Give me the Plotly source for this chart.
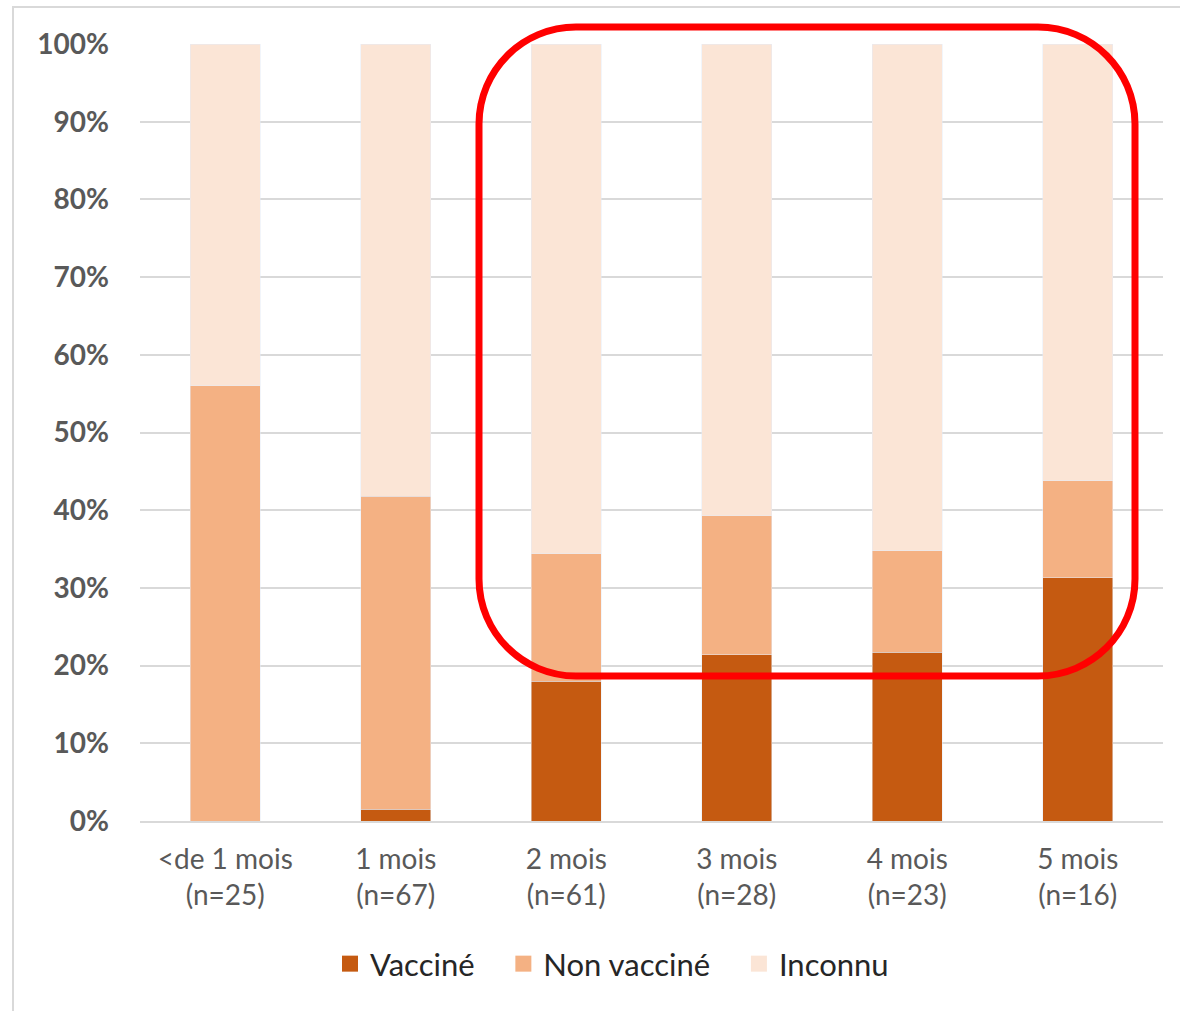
import plotly.graph_objects as go

# Age groups of the infants, with group sizes
categories = ["<de 1 mois<br>(n=25)", "1 mois<br>(n=67)", "2 mois<br>(n=61)",
              "3 mois<br>(n=28)", "4 mois<br>(n=23)", "5 mois<br>(n=16)"]

# Share of each vaccination status (percent)
vaccine = [0.0, 1.5, 18.0, 21.4, 21.7, 31.3]
non_vaccine = [56.0, 40.3, 16.4, 17.9, 13.1, 12.5]
inconnu = [44.0, 58.2, 65.6, 60.7, 65.2, 56.2]

series_names = ["Vacciné", "Non vacciné", "Inconnu"]
series_colors = ["#C55A11", "#F4B183", "#FBE5D6"]

y_ticks = [0, 10, 20, 30, 40, 50, 60, 70, 80, 90, 100]
y_tick_text = [f"{v}%" for v in y_ticks]

W, H = 1180, 1011
ML, MR, MT, MB = 140, 17, 44, 190
PW, PH = W - ML - MR, H - MT - MB


def px(x):
    return (x - ML) / PW


def py(y):
    return (H - MB - y) / PH


fig = go.Figure()
for name, color, vals in zip(series_names, series_colors, [vaccine, non_vaccine, inconnu]):
    fig.add_bar(name=name, x=categories, y=vals, marker_color=color,
                legendgroup=name, showlegend=False)
# Legend entries with larger square swatches; non-breaking spaces widen the gap between entries
pad = "\u00a0" * 3
for i, (name, color) in enumerate(zip(series_names, series_colors)):
    label = name + (pad if i < len(series_names) - 1 else "")
    fig.add_scatter(name=label, x=[None], y=[None], mode="markers",
                    marker=dict(symbol="square", size=16, color=color),
                    legendgroup=name, showlegend=True)

# Rounded highlight frame around the 2-5 month groups
L, R, T, B, r = 479, 1135, 27, 676, 97
k = 0.5523 * r
pts = [
    ("M", [(L + r, T)]),
    ("L", [(R - r, T)]),
    ("C", [(R - r + k, T), (R, T + r - k), (R, T + r)]),
    ("L", [(R, B - r)]),
    ("C", [(R, B - r + k), (R - r + k, B), (R - r, B)]),
    ("L", [(L + r, B)]),
    ("C", [(L + r - k, B), (L, B - r + k), (L, B - r)]),
    ("L", [(L, T + r)]),
    ("C", [(L, T + r - k), (L + r - k, T), (L + r, T)]),
]
path = " ".join(
    cmd + " " + " ".join(f"{px(x):.5f},{py(y):.5f}" for x, y in p) for cmd, p in pts
) + " Z"

shapes = [
    # light outer chart border
    dict(type="rect", xref="paper", yref="paper",
         x0=px(13), x1=px(1200), y0=py(1030), y1=py(7),
         line=dict(color="#D9D9D9", width=2), fillcolor="rgba(0,0,0,0)", layer="below"),
    dict(type="path", xref="paper", yref="paper", path=path,
         line=dict(color="#FF0000", width=7), fillcolor="rgba(0,0,0,0)"),
]

fig.update_layout(
    barmode="stack",
    bargap=0.59,
    width=W, height=H,
    margin=dict(l=ML, r=MR, t=MT, b=MB, autoexpand=False),
    paper_bgcolor="white",
    plot_bgcolor="white",
    font=dict(family="Lato", color="#595959"),
    shapes=shapes,
    legend=dict(orientation="h", x=px(612), xanchor="center", y=py(964), yanchor="middle",
                font=dict(size=31, color="#262626"), traceorder="normal",
                itemwidth=30),
    xaxis=dict(showgrid=False, showline=True, linecolor="#D9D9D9", linewidth=2,
               tickfont=dict(size=28, color="#595959"), ticks="", ticklabelstandoff=12),
    yaxis=dict(range=[0, 100], tickvals=y_ticks, ticktext=y_tick_text,
               showgrid=True, gridcolor="#D9D9D9", gridwidth=2,
               zeroline=False, showline=False, ticks="",
               tickfont=dict(size=28, color="#595959", weight="bold"),
               ticklabelstandoff=30),
)

fig.write_html("out.html")
